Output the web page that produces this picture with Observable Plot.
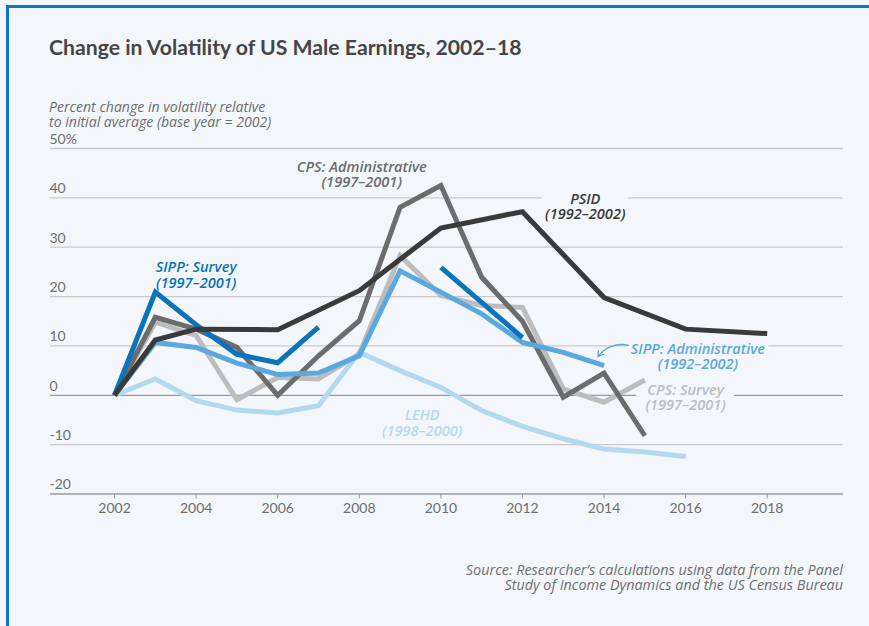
<!DOCTYPE html>
<html>
<head>
<meta charset="utf-8">
<script src="https://cdn.jsdelivr.net/npm/d3@7"></script>
<script src="https://cdn.jsdelivr.net/npm/@observablehq/plot@0.6"></script>
<style>
  html, body { margin: 0; padding: 0; background: #f3f7fb; width: 869px; height: 626px; overflow: hidden; font-family: Lato, "Noto Sans", sans-serif; }
  .frame { position: absolute; left: 6px; top: 5px; right: -10px; bottom: -10px; border-left: 3px solid #0b78c2; border-top: 3px solid #0b78c2; }
  .title { position: absolute; left: 49px; top: 35px; font-size: 21.2px; font-weight: 700; color: #454545; line-height: 24px; white-space: nowrap; }
  .ylabel { position: absolute; left: 49px; top: 98.5px; font-family: "Open Sans", sans-serif; font-size: 14.1px; font-style: italic; color: #6e6e6e; line-height: 15.5px; white-space: nowrap; }
  .chart { position: absolute; left: 0; top: 125px; }
  .source { position: absolute; right: 26px; top: 561.5px; font-family: "Open Sans", sans-serif; font-size: 14.4px; font-style: italic; color: #6e6e6e; line-height: 15.5px; text-align: right; white-space: nowrap; }
</style>
</head>
<body>
<div class="frame"></div>
<div class="title">Change in Volatility of US Male Earnings, 2002–18</div>
<div class="ylabel">Percent change in volatility relative<br>to initial average (base year = 2002)</div>
<div class="chart" id="chart"></div>
<div class="source">Source: Researcher’s calculations using data from the Panel<br>Study of Income Dynamics and the US Census Bureau</div>
<script>
// ---- data ----
const yTicks = [-20, -10, 0, 10, 20, 30, 40, 50];
const xTicks = [2002, 2004, 2006, 2008, 2010, 2012, 2014, 2016, 2018];

const psidYears = [2002, 2003, 2004, 2006, 2008, 2010, 2012, 2014, 2016, 2018];
const psidValues = [0, 11.2, 13.4, 13.3, 21.2, 33.9, 37.2, 19.8, 13.4, 12.5];

const sippSurveyYears = [2002, 2003, 2004, 2005, 2006, 2007, 2008, 2010, 2012];
const sippSurveyValues = [0, 20.9, 14.3, 8.3, 6.6, 13.8, null, 25.9, 11.7];

const cpsAdminYears = [2002, 2003, 2004, 2005, 2006, 2007, 2008, 2009, 2010, 2011, 2012, 2013, 2014, 2015];
const cpsAdminValues = [0, 15.8, 13.4, 9.7, 0, 8.0, 15.1, 38.1, 42.5, 23.9, 15.0, -0.4, 4.5, -8.2];

const cpsSurveyYears = [2002, 2003, 2004, 2005, 2006, 2007, 2008, 2009, 2010, 2011, 2012, 2013, 2014, 2015];
const cpsSurveyValues = [0, 14.8, 12.1, -0.9, 3.6, 3.3, 8.4, 28.3, 20.2, 18.2, 17.8, 1.3, -1.4, 3.1];

const sippAdminYears = [2002, 2003, 2004, 2005, 2006, 2007, 2008, 2009, 2010, 2011, 2012, 2013, 2014];
const sippAdminValues = [0, 10.7, 9.7, 6.5, 4.2, 4.5, 8.0, 25.2, 20.9, 16.5, 10.7, 8.7, 6.0];

const lehdYears = [2002, 2003, 2004, 2005, 2006, 2007, 2008, 2009, 2010, 2011, 2012, 2013, 2014, 2015, 2016];
const lehdValues = [0, 3.3, -1.1, -3.0, -3.6, -2.1, 8.7, 5.0, 1.6, -3.1, -6.3, -8.8, -10.9, -11.5, -12.4];

// series names, label text and label anchor (data coordinates)
const seriesNames = ["LEHD", "CPS: Survey", "CPS: Administrative", "SIPP: Administrative", "SIPP: Survey", "PSID"];
const seriesColors = ["#b3d9f0", "#bdbdbe", "#6c6c6d", "#5aa9de", "#0a73bb", "#3a3a3a"];
const labelTexts = ["LEHD\n(1998–2000)", "CPS: Survey\n(1997–2001)", "CPS: Administrative\n(1997–2001)", "SIPP: Administrative\n(1992–2002)", "SIPP: Survey\n(1997–2001)", "PSID\n(1992–2002)"];
const labelX = [2009.54, 2016.0, 2008.06, 2016.3, 2004.0, 2013.54];
const labelY = [-5.6, -0.5, 44.7, 7.9, 24.4, 38.2];

const arrowFrom = [2014.6, 10.1];
const arrowTo = [2013.85, 7.8];

// ---- build tables ----
const seriesData = [
  [lehdYears, lehdValues],
  [cpsSurveyYears, cpsSurveyValues],
  [cpsAdminYears, cpsAdminValues],
  [sippAdminYears, sippAdminValues],
  [sippSurveyYears, sippSurveyValues],
  [psidYears, psidValues]
];
const rows = [];
seriesData.forEach(([ys, vs], i) => ys.forEach((yr, j) => rows.push({series: seriesNames[i], year: yr, value: vs[j]})));
const labels = seriesNames.map((s, i) => ({series: s, text: labelTexts[i], x: labelX[i], y: labelY[i], color: seriesColors[i]}));

const bg = "#f3f7fb";
const font = "Lato, 'Noto Sans', sans-serif";
const labelFont = "'Open Sans', sans-serif";

const lineMarks = seriesNames.map((s, i) =>
  Plot.line(rows.filter(r => r.series === s), {
    x: "year", y: "value", stroke: seriesColors[i], strokeWidth: 5,
    strokeLinejoin: "miter", strokeLinecap: "butt", strokeMiterlimit: 4
  })
);

// background boxes behind some labels, which interrupt the gridlines (sizes in px)
const haloBox = (name, halfW, halfH) => Plot.rect(labels.filter(d => d.series === name), {
  x1: "x", x2: "x", y1: "y", y2: "y", fill: bg,
  insetLeft: -halfW, insetRight: -halfW, insetTop: -halfH, insetBottom: -halfH
});

const chart = Plot.plot({
  width: 869,
  height: 400,
  marginLeft: 50,
  marginRight: 26,
  marginTop: 23,
  marginBottom: 31.5,
  style: {background: "transparent", fontFamily: font, overflow: "visible"},
  x: {domain: [2000.43, 2019.87]},
  y: {domain: [-20, 50], axis: null},
  marks: [
    Plot.ruleY(yTicks, {stroke: d => (d === 0 || d === -20) ? "#9a9a9a" : "#cacaca", strokeWidth: 1.3}),
    Plot.text(yTicks, {y: d => d, frameAnchor: "left", text: d => d === 50 ? "50%" : String(d), textAnchor: "start", dy: -9, dx: -1, fill: "#6e6e6e", fontSize: 14}),
    Plot.axisX({ticks: xTicks, tickFormat: d => String(d), tickSize: 5, tickPadding: 4, stroke: "#9a9a9a", fill: "#6e6e6e", fontSize: 14, label: null}),
    haloBox("PSID", 43, 16),
    haloBox("CPS: Survey", 49, 16),
    haloBox("SIPP: Administrative", 71, 16),
    ...lineMarks,
    Plot.text(labels, {
      x: "x", y: "y", text: "text", fill: "color",
      fontSize: 14.6, fontStyle: "italic", fontWeight: 600, fontFamily: labelFont,
      lineHeight: 1.06, lineAnchor: "middle"
    }),
    Plot.arrow([{x1: arrowFrom[0], y1: arrowFrom[1], x2: arrowTo[0], y2: arrowTo[1]}], {x1: "x1", y1: "y1", x2: "x2", y2: "y2", bend: -35, stroke: "#5aa9de", strokeWidth: 1.3, headLength: 7})
  ]
});
document.getElementById("chart").appendChild(chart);
</script>
</body>
</html>
